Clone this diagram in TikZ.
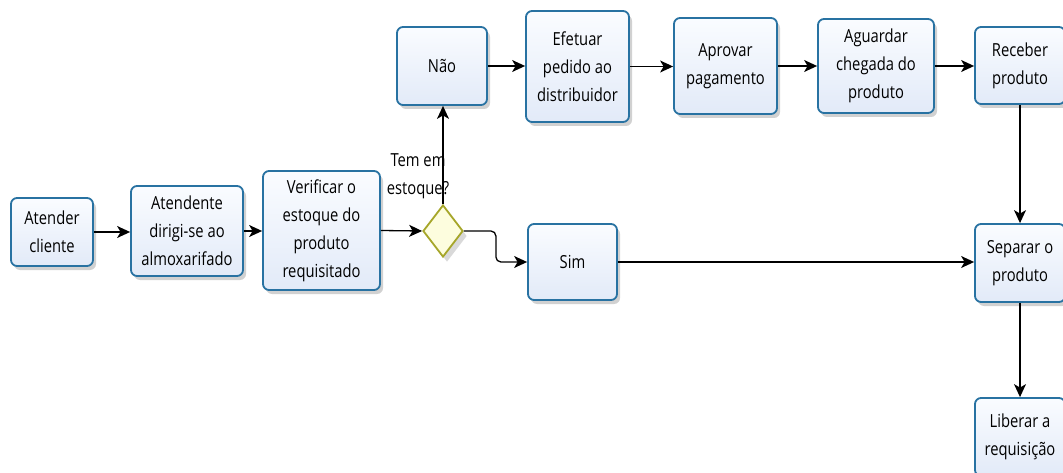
\documentclass[tikz,border=0pt]{standalone}
\usepackage{fontspec}
\setmainfont{Open Sans}[FakeStretch=0.82]
\usetikzlibrary{arrows.meta,shadows,shapes.geometric}
\definecolor{boxline}{RGB}{40,114,162}
\definecolor{boxtop}{RGB}{250,252,255}
\definecolor{boxbottom}{RGB}{226,234,248}
\definecolor{gateline}{RGB}{166,166,42}
\definecolor{gatefill}{RGB}{253,253,222}
\tikzset{
  task/.style={rectangle, rounded corners=6pt, draw=boxline, line width=1.8pt,
    top color=boxtop, bottom color=boxbottom, align=center, inner sep=2pt,
    font=\fontsize{18}{28}\selectfont,
    drop shadow={shadow xshift=3pt, shadow yshift=-4pt, opacity=0.18, fill=black}},
  gate/.style={diamond, draw=gateline, fill=gatefill, line width=1.8pt, inner sep=0pt,
    drop shadow={shadow xshift=4pt, shadow yshift=-5pt, opacity=0.15, fill=black}},
  flow/.style={line width=1.3pt, -{Stealth[length=13pt,width=12pt,inset=3.5pt]}},
  tag/.style={align=center, font=\fontsize{18}{28}\selectfont}
}
\begin{document}
\begin{tikzpicture}[x=1pt,y=-1pt]
  \useasboundingbox (0,0) rectangle (1063,473);
  \clip (0,0) rectangle (1063,473);
  \fill[white] (0,0) rectangle (1063,473);

  % main row
  \node[task, minimum width=82pt, minimum height=68pt] (atender) at (52,232) {Atender\\cliente};
  \node[task, minimum width=112pt, minimum height=90pt] (atendente) at (187,231) {Atendente\\dirigi-se ao\\almoxarifado};
  \node[task, minimum width=117pt, minimum height=119pt] (verificar) at (321.5,230.5) {Verificar o\\estoque do\\produto\\requisitado};
  \node[gate, minimum width=40pt, minimum height=52pt] (gw) at (443,231) {};
  \node[tag] (pergunta) at (418,176) {Tem em\\estoque?};

  % branch "Não"
  \node[task, minimum width=90pt, minimum height=78pt] (nao) at (442,66) {Não};
  \node[task, minimum width=103pt, minimum height=111pt] (efetuar) at (577.5,66.5) {Efetuar\\pedido ao\\distribuidor};
  \node[task, minimum width=103pt, minimum height=96pt] (aprovar) at (725.5,66) {Aprovar\\pagamento};
  \node[task, minimum width=116pt, minimum height=94pt] (aguardar) at (876,66) {Aguardar\\chegada do\\produto};
  \node[task, minimum width=90pt, minimum height=77pt] (receber) at (1020,65.5) {Receber\\produto};

  % branch "Sim"
  \node[task, minimum width=89pt, minimum height=76pt] (sim) at (572.5,262) {Sim};
  \node[task, minimum width=90pt, minimum height=78pt] (separar) at (1020,263) {Separar o\\produto};
  \node[task, minimum width=90pt, minimum height=78pt] (liberar) at (1020,437) {Liberar a\\requisição};

  % connectors
  \draw[flow] (atender.east) -- (atender.east -| atendente.west);
  \draw[flow] (atendente.east) -- (atendente.east -| verificar.west);
  \draw[flow] (verificar.east) -- (gw.west);
  \draw[flow] (gw.north) -- (gw.north |- nao.south);
  \draw[flow] (nao.east) -- (nao.east -| efetuar.west);
  \draw[flow] (efetuar.east) -- (efetuar.east -| aprovar.west);
  \draw[flow] (aprovar.east) -- (aprovar.east -| aguardar.west);
  \draw[flow] (aguardar.east) -- (aguardar.east -| receber.west);
  \draw[flow, rounded corners=5pt] (gw.east) -- ++(32,0) |- (sim.west);
  \draw[flow] (sim.east) -- (sim.east -| separar.west);
  \draw[flow] (receber.south) -- (separar.north);
  \draw[flow] (separar.south) -- (liberar.north);
\end{tikzpicture}
\end{document}
